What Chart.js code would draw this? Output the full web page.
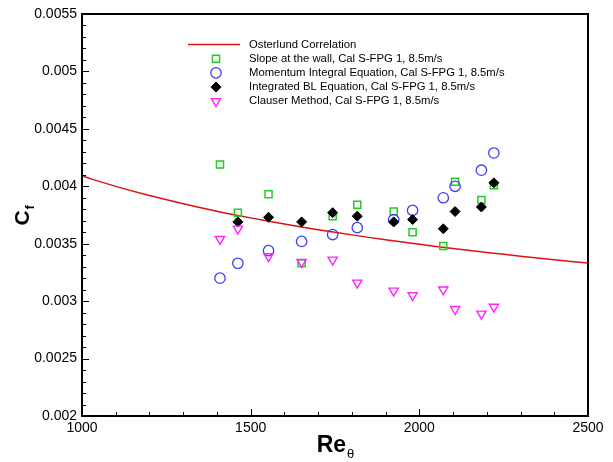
<!DOCTYPE html>
<html>
<head>
<meta charset="utf-8">
<script src="https://cdn.jsdelivr.net/npm/chart.js@4/dist/chart.umd.min.js"></script>
<style>
  html, body { margin: 0; padding: 0; background: #fff; }
  #wrap { width: 613px; height: 462px; }
</style>
</head>
<body>
<div id="wrap"><canvas id="cf"></canvas></div>
<script>
// Momentum-thickness Reynolds number of each measurement station
const reTheta = [1409, 1462, 1553, 1651, 1743, 1816, 1924, 1980, 2071, 2106, 2184, 2221];

// Skin friction coefficient from each estimation method
const cfSlope      = [0.00419, 0.00377, 0.00393, 0.00333, 0.00374, 0.00384, 0.00378, 0.00360, 0.00348, 0.00404, 0.00388, 0.00401];
const cfMomentum   = [0.00320, 0.00333, 0.00344, 0.00352, 0.00358, 0.00364, 0.00371, 0.00379, 0.00390, 0.00400, 0.00414, 0.00429];
const cfIntegrated = [null,    0.00369, 0.00373, 0.00369, 0.00377, 0.00374, 0.00369, 0.00371, 0.00363, 0.00378, 0.00382, 0.00403];
const cfClauser    = [0.00354, 0.00363, 0.00339, 0.00334, 0.00336, 0.00316, 0.00309, 0.00305, 0.00310, 0.00293, 0.00289, 0.00295];

// Osterlund correlation curve
const reCorr = [1000, 1100, 1200, 1300, 1400, 1500, 1600, 1700, 1800, 1900, 2000, 2100, 2200, 2300, 2400, 2500];
const cfCorr = [0.004089, 0.003999, 0.003919, 0.003848, 0.003783, 0.003725, 0.003671, 0.003622,
                0.003577, 0.003534, 0.003495, 0.003458, 0.003424, 0.003391, 0.003360, 0.003331];

// Axis ranges and tick spacing
const xRange = [1000, 2500];
const yRange = [0.002, 0.0055];
const xMajorStep = 500, xMinorStep = 100;
const yMajorStep = 0.0005, yMinorStep = 0.0001;

const seriesNames = [
  'Osterlund Correlation',
  'Slope at the wall, Cal S-FPG 1, 8.5m/s',
  'Momentum Integral Equation, Cal S-FPG 1, 8.5m/s',
  'Integrated BL Equation, Cal S-FPG 1, 8.5m/s',
  'Clauser Method, Cal S-FPG 1, 8.5m/s'
];

const FONT = "'Liberation Sans', Arial, Helvetica, sans-serif";

function toPoints(xs, ys) {
  const out = [];
  xs.forEach((x, i) => { if (ys[i] !== null) out.push({ x: x, y: ys[i] }); });
  return out;
}

const datasets = [
  {
    label: seriesNames[0],
    data: toPoints(reCorr, cfCorr),
    showLine: true,
    borderColor: '#dd1111',
    backgroundColor: '#dd1111',
    borderWidth: 1.5,
    pointRadius: 0,
    tension: 0.3,
    order: 10
  },
  {
    label: seriesNames[1],
    data: toPoints(reTheta, cfSlope),
    pointStyle: 'rect',
    pointRadius: 5,
    borderColor: '#22cc22',
    backgroundColor: 'rgba(0,0,0,0)',
    pointBorderWidth: 1.5,
    order: 4
  },
  {
    label: seriesNames[2],
    data: toPoints(reTheta, cfMomentum),
    pointStyle: 'circle',
    pointRadius: 5.2,
    borderColor: '#3d3dff',
    backgroundColor: 'rgba(0,0,0,0)',
    pointBorderWidth: 1.3,
    order: 3
  },
  {
    label: seriesNames[3],
    data: toPoints(reTheta, cfIntegrated),
    pointStyle: 'rectRot',
    pointRadius: 5,
    borderColor: '#000000',
    backgroundColor: '#000000',
    pointBorderWidth: 1,
    order: 2
  },
  {
    label: seriesNames[4],
    data: toPoints(reTheta, cfClauser),
    pointStyle: 'triangle',
    rotation: 180,
    pointRadius: 5.3,
    borderColor: '#ff22ff',
    backgroundColor: 'rgba(0,0,0,0)',
    pointBorderWidth: 1.4,
    order: 1
  }
];

// Frame, inward tick marks, axis titles and the in-plot legend
const decorations = {
  id: 'decorations',
  afterDraw(chart) {
    const ctx = chart.ctx;
    const a = chart.chartArea;
    const xs = chart.scales.x, ys = chart.scales.y;
    ctx.save();

    // tick marks pointing into the plot
    ctx.strokeStyle = '#000';
    ctx.lineWidth = 1;
    ctx.beginPath();
    const nx = Math.round((xRange[1] - xRange[0]) / xMinorStep);
    for (let i = 0; i <= nx; i++) {
      const v = xRange[0] + i * xMinorStep;
      const px = Math.round(xs.getPixelForValue(v)) + 0.5;
      const major = (i % Math.round(xMajorStep / xMinorStep)) === 0;
      ctx.moveTo(px, a.bottom);
      ctx.lineTo(px, a.bottom - (major ? 7 : 4));
    }
    const ny = Math.round((yRange[1] - yRange[0]) / yMinorStep);
    for (let i = 0; i <= ny; i++) {
      const v = yRange[0] + i * yMinorStep;
      const py = Math.round(ys.getPixelForValue(v)) + 0.5;
      const major = (i % Math.round(yMajorStep / yMinorStep)) === 0;
      ctx.moveTo(a.left, py);
      ctx.lineTo(a.left + (major ? 7 : 4), py);
    }
    ctx.stroke();

    // plot frame
    ctx.lineWidth = 2;
    ctx.strokeRect(a.left, a.top, a.right - a.left, a.bottom - a.top);

    // x axis title: Re with subscript theta
    ctx.fillStyle = '#000';
    ctx.textBaseline = 'alphabetic';
    ctx.textAlign = 'left';
    ctx.font = 'bold 23px ' + FONT;
    const main = 'Re';
    const wMain = ctx.measureText(main).width;
    ctx.font = '13px ' + FONT;
    const wSub = ctx.measureText('\u03b8').width;
    const cx = (a.left + a.right) / 2;
    const startX = cx - (wMain + wSub) / 2;
    ctx.font = 'bold 23px ' + FONT;
    ctx.fillText(main, startX, 452);
    ctx.font = '13px ' + FONT;
    ctx.fillText('\u03b8', startX + wMain + 1, 458);

    // y axis title: C with subscript f, rotated
    ctx.save();
    ctx.translate(29, 215);
    ctx.rotate(-Math.PI / 2);
    ctx.font = 'bold 21px ' + FONT;
    const wC = ctx.measureText('C').width;
    ctx.fillText('C', -wC / 2 - 3, 0);
    ctx.font = 'bold 13px ' + FONT;
    ctx.fillText('f', wC / 2 - 2, 5);
    ctx.restore();

    // legend inside the plot
    const lx0 = 188, lx1 = 240, markerX = 216, textX = 249;
    const rowY0 = 44.5, rowGap = 14.2;
    ctx.font = '11.3px ' + FONT;
    ctx.textBaseline = 'middle';
    chart.data.datasets.forEach((ds, i) => {
      const y = rowY0 + i * rowGap;
      if (ds.showLine) {
        ctx.strokeStyle = ds.borderColor;
        ctx.lineWidth = ds.borderWidth;
        ctx.beginPath();
        ctx.moveTo(lx0, y);
        ctx.lineTo(lx1, y);
        ctx.stroke();
      } else {
        ctx.strokeStyle = ds.borderColor;
        ctx.fillStyle = ds.backgroundColor;
        ctx.lineWidth = ds.pointBorderWidth;
        Chart.helpers.drawPoint(ctx, {
          pointStyle: ds.pointStyle,
          rotation: ds.rotation || 0,
          radius: ds.pointRadius,
          borderWidth: ds.pointBorderWidth
        }, markerX, y);
      }
      ctx.fillStyle = '#000';
      ctx.fillText(ds.label, textX, y);
    });

    ctx.restore();
  }
};

new Chart(document.getElementById('cf'), {
  type: 'scatter',
  data: { datasets: datasets },
  options: {
    responsive: true,
    maintainAspectRatio: false,
    animation: false,
    layout: { padding: { top: 14, right: 25, left: 0, bottom: 0 } },
    plugins: { legend: { display: false }, tooltip: { enabled: false } },
    scales: {
      x: {
        type: 'linear',
        min: xRange[0], max: xRange[1],
        grid: { display: false, drawTicks: false, tickLength: 0 },
        border: { display: false },
        ticks: {
          stepSize: xMajorStep,
          padding: 4,
          color: '#000',
          maxRotation: 0,
          font: { family: FONT, size: 14 },
          callback: v => String(Math.round(v))
        },
        afterFit: s => { s.height = 46; }
      },
      y: {
        type: 'linear',
        min: yRange[0], max: yRange[1],
        grid: { display: false, drawTicks: false, tickLength: 0 },
        border: { display: false },
        ticks: {
          stepSize: yMajorStep,
          padding: 5,
          color: '#000',
          font: { family: FONT, size: 14 },
          callback: v => String(parseFloat(v.toFixed(4)))
        },
        afterFit: s => { s.width = 82; }
      }
    }
  },
  plugins: [decorations]
});
</script>
</body>
</html>
